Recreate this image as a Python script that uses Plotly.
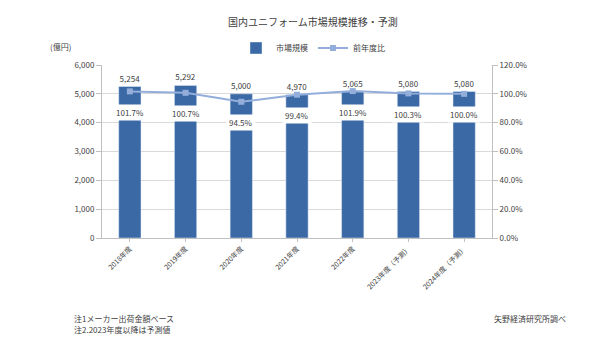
import plotly.graph_objects as go

categories = ["2018年度", "2019年度", "2020年度", "2021年度", "2022年度", "2023年度（予測）", "2024年度（予測）"]
market = [5254, 5292, 5000, 4970, 5065, 5080, 5080]
ratio = [101.7, 100.7, 94.5, 99.4, 101.9, 100.3, 100.0]
left_ticks = [0, 1000, 2000, 3000, 4000, 5000, 6000]
right_ticks = [0, 20, 40, 60, 80, 100, 120]

FONT = "Noto Sans CJK JP, sans-serif"
BAR = "#3B69A6"
LINE = "#94AEDB"
TXT = "#404040"

OFF = 8  # page body margin
L, T = 102 - OFF, 65 - OFF
PW, PH = 390, 173
W, H = 600, 355
R = W - L - PW
B = H - T - PH
def px(x): return (x - OFF - L) / PW
def py(y): return (T + PH - (y - OFF)) / PH

fig = go.Figure()
fig.add_trace(go.Bar(
    x=categories, y=market, name="市場規模", marker_color=BAR, width=0.4,
    text=[f"{v:,}" for v in market], textposition="outside", cliponaxis=False,
    textfont=dict(size=8, color=TXT, family=FONT),
))
fig.add_trace(go.Scatter(
    x=categories, y=ratio, name="前年度比", yaxis="y2", mode="lines+markers",
    line=dict(color=LINE, width=2), marker=dict(symbol="square", size=6, color=LINE),
))

for c, r in zip(categories, ratio):
    fig.add_annotation(x=c, y=r, xref="x", yref="y2", text=f"{r:.1f}%",
                       showarrow=False, yshift=-21, bgcolor="white",
                       font=dict(size=8, color=TXT, family=FONT), borderpad=2)

def note(x, y, text, size=8, anchor="left"):
    fig.add_annotation(x=px(x), y=py(y), xref="paper", yref="paper", text=text,
                       showarrow=False, xanchor=anchor, yanchor="middle",
                       font=dict(size=size, color=TXT, family=FONT))

note(313, 22, "国内ユニフォーム市場規模推移・予測", size=10, anchor="center")
note(48, 46, "(億円)")
note(72, 318, "注1メーカー出荷金額ベース")
note(72, 329, "注2.2023年度以降は予測値")
note(492, 318, "矢野経済研究所調べ")

fig.update_layout(
    width=W, height=H,
    margin=dict(l=L, r=R, t=T, b=B, autoexpand=False),
    paper_bgcolor="white", plot_bgcolor="white",
    font=dict(family=FONT, size=8, color=TXT),
    showlegend=True,
    legend=dict(orientation="h", x=px(313), xanchor="center", y=py(48), yanchor="middle",
                font=dict(size=8, color=TXT)),
    bargap=0.6,
    xaxis=dict(tickangle=-45, showline=True, linecolor="#BFBFBF", ticks="outside",
               tickcolor="#BFBFBF", ticklen=3, tickfont=dict(size=7)),
    yaxis=dict(range=[0, 6000], tickvals=left_ticks, tickformat=",", showgrid=True,
               gridcolor="#D9D9D9", showline=True, linecolor="#BFBFBF", ticks="outside",
               tickcolor="#BFBFBF", ticklen=5, zeroline=False),
    yaxis2=dict(range=[0, 120], tickvals=right_ticks, ticktext=[f"{v:.1f}%" for v in right_ticks],
                overlaying="y", side="right", showgrid=False, showline=True,
                linecolor="#BFBFBF", ticks="outside", tickcolor="#BFBFBF", ticklen=5,
                zeroline=False),
)

fig.write_html("out.html")
